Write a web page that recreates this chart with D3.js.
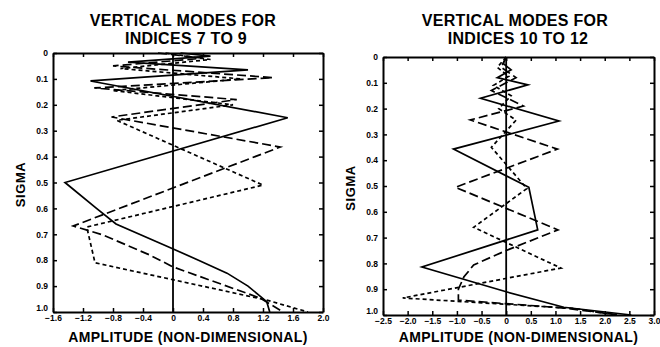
<!DOCTYPE html>
<html>
<head>
<meta charset="utf-8">
<script src="https://cdn.jsdelivr.net/npm/d3@7/dist/d3.min.js"></script>
<style>
    body { margin: 0; background: #fff; }
    text { font-family: "Liberation Sans", Arial, sans-serif; font-weight: bold; fill: #000; }
</style>
</head>
<body>
<div id="chart"></div>
<script>
// vertical mode profiles, amplitude vs sigma

// left panel - indices 7 to 9
var leftTicksX = [-1.6, -1.2, -0.8, -0.4, 0, 0.4, 0.8, 1.2, 1.6, 2.0];
var leftSolidSigma = [0, 0.012, 0.035, 0.065, 0.108, 0.25, 0.5, 0.6, 0.66, 0.75, 0.8, 0.85, 0.9, 0.96, 1.0];
var leftSolidAmp   = [0.1, 0.5, -0.6, 1.0, -1.1, 1.53, -1.44, -1.02, -0.76, -0.05, 0.34, 0.72, 1.0, 1.25, 1.29];
var leftLongSigma  = [0, 0.02, 0.05, 0.095, 0.135, 0.18, 0.247, 0.363, 0.668, 0.703, 0.78, 0.826, 0.946, 1.0];
var leftLongAmp    = [-0.2, 0.4, -0.8, 1.33, -1.05, 0.85, -0.82, 1.43, -1.33, -0.93, -0.31, 0, 1.16, 1.47];
var leftShortSigma = [0, 0.025, 0.06, 0.1, 0.145, 0.2, 0.26, 0.51, 0.672, 0.81, 0.954, 1.0];
var leftShortAmp   = [-0.1, 0.5, -0.7, 0.9, -0.8, 0.8, -0.75, 1.2, -1.15, -1.04, 1.25, 1.8];

// right panel - indices 10 to 12
var rightTicksX = [-2.5, -2.0, -1.5, -1.0, -0.5, 0, 0.5, 1.0, 1.5, 2.0, 2.5, 3.0];
var rightSolidSigma = [0, 0.025, 0.05, 0.08, 0.108, 0.16, 0.248, 0.357, 0.505, 0.67, 0.814, 0.91, 0.97, 1.0];
var rightSolidAmp   = [0, -0.06, 0.1, -0.18, 0.44, -0.52, 1.07, -1.07, 0.46, 0.64, -1.71, 0, 1.17, 2.54];
var rightLongSigma  = [0, 0.04, 0.08, 0.13, 0.19, 0.244, 0.357, 0.505, 0.67, 0.75, 0.806, 0.853, 0.9, 0.942, 0.973, 1.0];
var rightLongAmp    = [0, -0.1, 0.2, -0.3, 0.35, -0.73, 1.04, -1.03, 1.05, 0, -0.66, -0.86, -0.97, -0.97, 1.17, 2.3];
var rightShortSigma = [0, 0.04, 0.075, 0.11, 0.15, 0.2, 0.245, 0.35, 0.51, 0.66, 0.818, 0.934, 0.975, 1.0];
var rightShortAmp   = [0, -0.18, 0.05, -0.26, 0.1, -0.15, 0.2, -0.3, 0.42, -0.66, 1.11, -2.1, 1.4, 2.2];

var sigmaTicks = [0, 0.1, 0.2, 0.3, 0.4, 0.5, 0.6, 0.7, 0.8, 0.9, 1.0];

(function () {
    "use strict";
    var w = 660, h = 347;
    var svg = d3.select('#chart').append('svg').attr('width', w).attr('height', h);

    function zip(sig, amp) {
        return sig.map(function (s, i) { return {s: s, a: amp[i]}; });
    }

    function fmt(d) {
        return d === 0 ? '0' : d3.format('.1f')(d);
    }

    function panel(o) {
        var x = d3.scaleLinear().domain(o.xDomain).range([o.left, o.right]);
        var y = d3.scaleLinear().domain([0, 1]).range([o.top, o.bottom]);
        var g = svg.append('g');

        // titles
        g.append('text').attr('x', o.titleX).attr('y', 26).attr('text-anchor', 'middle')
            .attr('font-size', 16).attr('letter-spacing', 0.3).text('VERTICAL MODES FOR');
        g.append('text').attr('x', o.titleX + 3).attr('y', 44).attr('text-anchor', 'middle')
            .attr('font-size', 16).attr('letter-spacing', 0.3).text(o.subtitle);
        g.append('text').attr('x', (o.left + o.right) / 2).attr('y', 342).attr('text-anchor', 'middle')
            .attr('font-size', 14).attr('letter-spacing', 0.4).text('AMPLITUDE (NON-DIMENSIONAL)');
        g.append('text').attr('transform', 'translate(' + (o.left - 28) + ',' + ((o.top + o.bottom) / 2 + 2) + ') rotate(-90)')
            .attr('text-anchor', 'middle').attr('font-size', 13).attr('letter-spacing', 0.6).text('SIGMA');

        // axes, ticks pointing inward on all four sides
        var ax = [
            g.append('g').attr('transform', 'translate(0,' + o.bottom + ')')
                .call(d3.axisBottom(x).tickValues(o.xTicks).tickFormat(fmt).tickSize(-4).tickSizeOuter(0).tickPadding(3)),
            g.append('g').attr('transform', 'translate(0,' + o.top + ')')
                .call(d3.axisTop(x).tickValues(o.xTicks).tickFormat('').tickSize(-4).tickSizeOuter(0)),
            g.append('g').attr('class', 'yaxis').attr('transform', 'translate(' + o.left + ',0)')
                .call(d3.axisLeft(y).tickValues(sigmaTicks).tickFormat(fmt).tickSize(-4).tickSizeOuter(0).tickPadding(5)),
            g.append('g').attr('transform', 'translate(' + o.right + ',0)')
                .call(d3.axisRight(y).tickValues(sigmaTicks).tickFormat('').tickSize(-4).tickSizeOuter(0))
        ];
        ax.forEach(function (a) {
            a.select('.domain').attr('stroke', '#000').attr('stroke-width', 2);
            a.selectAll('.tick line').attr('stroke', '#000').attr('stroke-width', 1.5);
            a.selectAll('.tick text').attr('font-size', 8.5).attr('font-family', '"DejaVu Sans Condensed", "Liberation Sans", sans-serif')
                .attr('font-weight', 'bold').attr('fill', '#000');
        });
        // bottom sigma label sits a little higher, clear of the amplitude labels
        ax[2].selectAll('.tick text').filter(function (d) { return d === 1; }).attr('dy', '-0.2em');

        // zero line
        g.append('line').attr('x1', x(0)).attr('x2', x(0)).attr('y1', y(0)).attr('y2', y(1))
            .attr('stroke', '#000').attr('stroke-width', 1.8);

        var line = d3.line().x(function (d) { return x(d.a); }).y(function (d) { return y(d.s); });
        g.selectAll('path.mode').data(o.series).enter().append('path')
            .attr('class', 'mode')
            .attr('d', function (d) { return line(d.pts); })
            .attr('fill', 'none').attr('stroke', '#000').attr('stroke-width', 1.7)
            .attr('stroke-linejoin', 'miter')
            .attr('stroke-dasharray', function (d) { return d.dash; });
    }

    panel({
        xDomain: [-1.6, 2.0], xTicks: leftTicksX,
        left: 53, right: 323, top: 53, bottom: 312, titleX: 183,
        subtitle: 'INDICES  7  TO  9',
        series: [
            {pts: zip(leftSolidSigma, leftSolidAmp), dash: null},
            {pts: zip(leftLongSigma, leftLongAmp), dash: '9,4'},
            {pts: zip(leftShortSigma, leftShortAmp), dash: '4,3'}
        ]
    });

    panel({
        xDomain: [-2.5, 3.0], xTicks: rightTicksX,
        left: 383, right: 654, top: 57, bottom: 315, titleX: 515,
        subtitle: 'INDICES  10  TO  12',
        series: [
            {pts: zip(rightSolidSigma, rightSolidAmp), dash: null},
            {pts: zip(rightLongSigma, rightLongAmp), dash: '9,4'},
            {pts: zip(rightShortSigma, rightShortAmp), dash: '4,3'}
        ]
    });
}());
</script>
</body>
</html>
